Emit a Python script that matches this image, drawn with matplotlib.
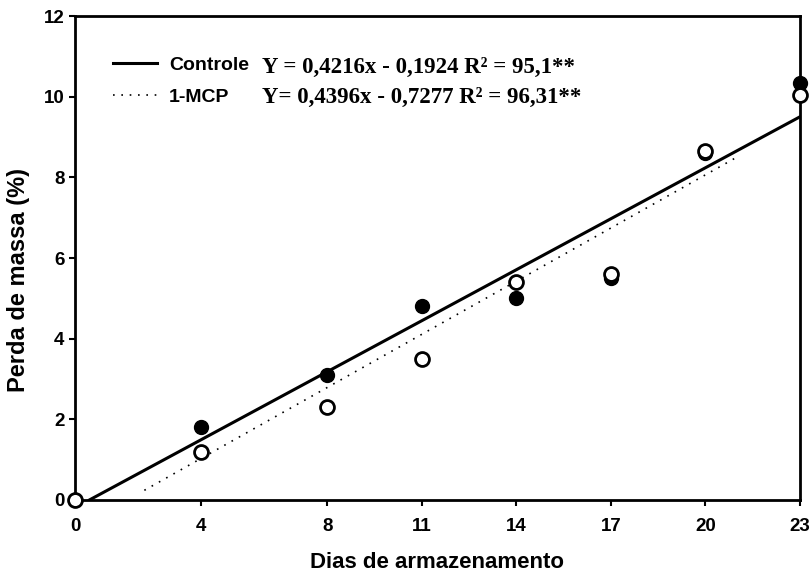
import numpy as np
import matplotlib.pyplot as plt

dias = [0, 4, 8, 11, 14, 17, 20, 23]
controle = [0, 1.8, 3.1, 4.8, 5.0, 5.5, 8.6, 10.35]
mcp = [0, 1.2, 2.3, 3.5, 5.4, 5.6, 8.65, 10.05]
coef_controle = (0.4216, -0.1924)
coef_mcp = (0.4396, -0.7277)
eq_controle = "Y = 0,4216x - 0,1924 R² = 95,1**"
eq_mcp = "Y= 0,4396x - 0,7277 R² = 96,31**"

plt.rcParams['font.family'] = ['Liberation Sans', 'DejaVu Sans']
plt.rcParams['font.weight'] = 'bold'

fig = plt.figure(figsize=(8.1, 5.78), dpi=100)
ax = fig.add_axes([0.0926, 0.135, 0.895, 0.837])

# regression lines
x1 = np.array([-coef_controle[1] / coef_controle[0], 23])
ax.plot(x1, coef_controle[0] * x1 + coef_controle[1], color='black', lw=2.2,
        label='Controle')
x2 = np.array([2.2, 21.0])
ax.plot(x2, coef_mcp[0] * x2 + coef_mcp[1], color='black', lw=1.2,
        linestyle=(0, (1, 4)), label='1-MCP')

ax.plot(dias, controle, 'o', color='black', ms=10, clip_on=False, zorder=3)
ax.plot(dias, mcp, 'o', mfc='white', mec='black', mew=2, ms=10,
        clip_on=False, zorder=4)

ax.set_xlim(0, 23)
ax.set_ylim(0, 12)
ax.set_xticks(dias)
ax.set_yticks(range(0, 13, 2))
ax.tick_params(labelsize=13.5, width=1.5, length=4, direction='out')
for lab in ax.get_xticklabels() + ax.get_yticklabels():
    lab.set_fontweight('bold')
ax.tick_params(axis='x', pad=9)
for s in ax.spines.values():
    s.set_linewidth(2)

ax.set_xlabel("Dias de armazenamento", fontsize=16, fontweight='bold', labelpad=12)
ax.set_ylabel("Perda de massa (%)", fontsize=17, fontweight='bold')
ax.yaxis.set_label_coords(-0.062, 0.455)

ax.legend(loc='upper left', bbox_to_anchor=(0.052, 0.917), frameon=False,
          fontsize=14, handlelength=2.3, handletextpad=0.6, labelspacing=0.75,
          borderpad=0, borderaxespad=0)
ax.text(0.258, 0.893, eq_controle, transform=ax.transAxes, fontsize=16.5,
        family='Liberation Serif', fontweight='bold', va='center')
ax.text(0.258, 0.833, eq_mcp, transform=ax.transAxes, fontsize=16.5,
        family='Liberation Serif', fontweight='bold', va='center')

plt.savefig("out.png", dpi=100)
